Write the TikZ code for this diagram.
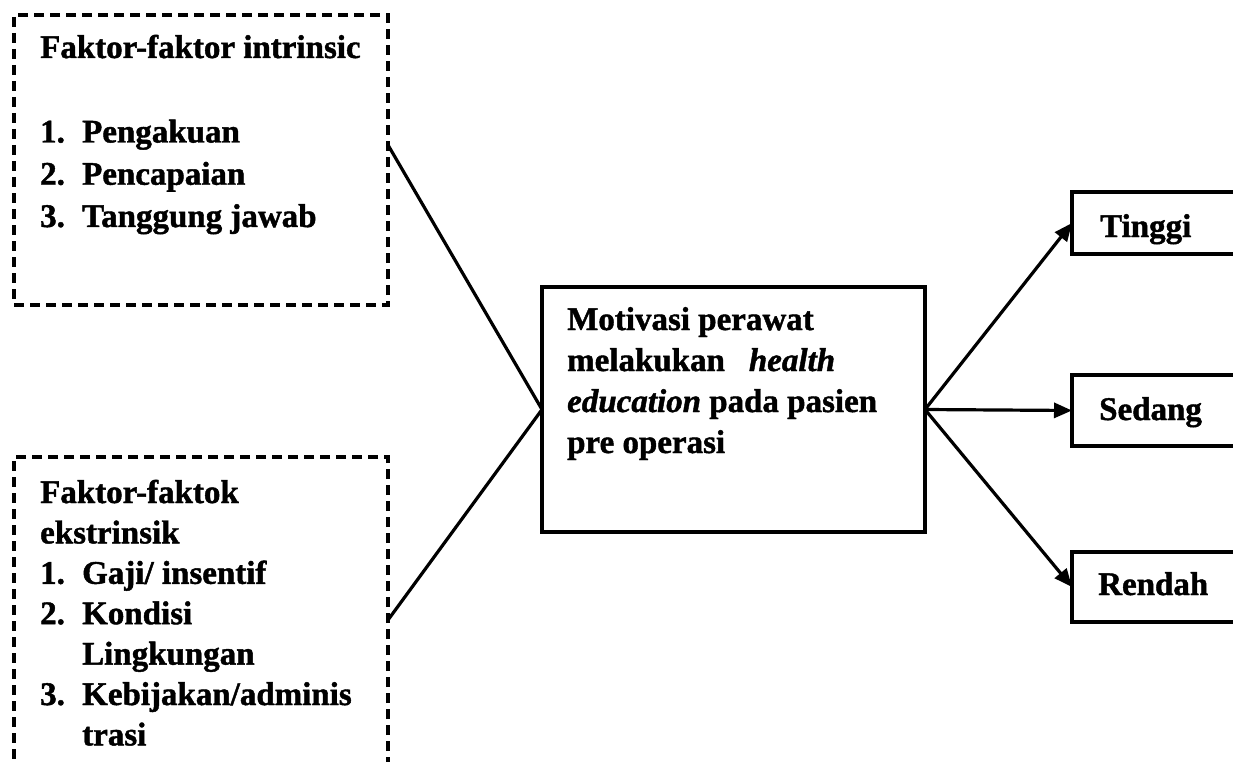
\documentclass[tikz,border=0pt]{standalone}
\usepackage{fontspec}
\setmainfont{Liberation Serif}[BoldFeatures={FakeBold=1.3}, BoldItalicFeatures={FakeBold=1.3}]
\usetikzlibrary{arrows.meta}
\tikzset{
  dbox/.style={draw, line width=3.4pt, dash pattern=on 10pt off 6pt, rectangle, inner sep=0pt, outer sep=0pt, anchor=north west},
  sbox/.style={draw, line width=3.4pt, rectangle, inner sep=0pt, outer sep=0pt, anchor=north west},
  txt/.style={anchor=base west, inner sep=0pt, font=\fontsize{33}{41}\selectfont\bfseries},
  conn/.style={line width=3.2pt},
  arr/.style={line width=3.2pt, -{Triangle[length=18pt,width=15pt]}}
}
\newcommand{\itm}[2]{\makebox[42pt][l]{#1}#2}
\begin{document}
\begin{tikzpicture}[x=1pt,y=-1pt]
\clip (0,0) rectangle (1233,762);
\fill[white] (0,0) rectangle (1233,762);
% boxes
\node[dbox, minimum width=374pt, minimum height=290pt] (intr) at (14,15) {};
\node[dbox, minimum width=374pt, minimum height=320pt] (extr) at (14,457) {};
\node[sbox, minimum width=383pt, minimum height=245pt] (mot) at (542,287) {};
\node[sbox, minimum width=175pt, minimum height=62pt] (tinggi) at (1072,192) {};
\node[sbox, minimum width=175pt, minimum height=71pt] (sedang) at (1072,375) {};
\node[sbox, minimum width=175pt, minimum height=70pt] (rendah) at (1072,552) {};
% texts
\node[txt] (intrt) at (40,58) {\parbox[t]{340pt}{\fontsize{33}{42.25}\selectfont\bfseries\raggedright
Faktor-faktor intrinsic\\[42.25pt]
\itm{1.}{Pengakuan}\\
\itm{2.}{Pencapaian}\\
\itm{3.}{Tanggung jawab}}};
\node[txt] (extrt) at (40,503) {\parbox[t]{340pt}{\fontsize{33}{40.4}\selectfont\bfseries\raggedright
Faktor-faktok\\
ekstrinsik\\
\itm{1.}{Gaji/ insentif}\\
\itm{2.}{Kondisi}\\
\hspace*{42pt}Lingkungan\\
\itm{3.}{Kebijakan/adminis}\\
\hspace*{42pt}trasi}};
\node[txt] (mott) at (567,330) {\parbox[t]{350pt}{\fontsize{33}{41}\selectfont\bfseries\raggedright
Motivasi perawat\\
melakukan\hspace{24pt}\textit{health}\\
\textit{education} pada pasien\\
pre operasi}};
\node[txt] (tinggit) at (1100,237) {Tinggi};
\node[txt] (sedangt) at (1099,420) {Sedang};
\node[txt] (rendaht) at (1098,595) {Rendah};
% connector points
\path (intr.north east) ++(0,130) coordinate (iout);
\path (extr.north east) ++(0,163) coordinate (eout);
\draw[conn] (iout) -- (mot.west);
\draw[conn] (eout) -- (mot.west);
\draw[arr] (mot.east) -- (tinggi.west);
\draw[arr] (mot.east) -- (sedang.west);
\draw[arr] (mot.east) -- (rendah.west);
\end{tikzpicture}
\end{document}
